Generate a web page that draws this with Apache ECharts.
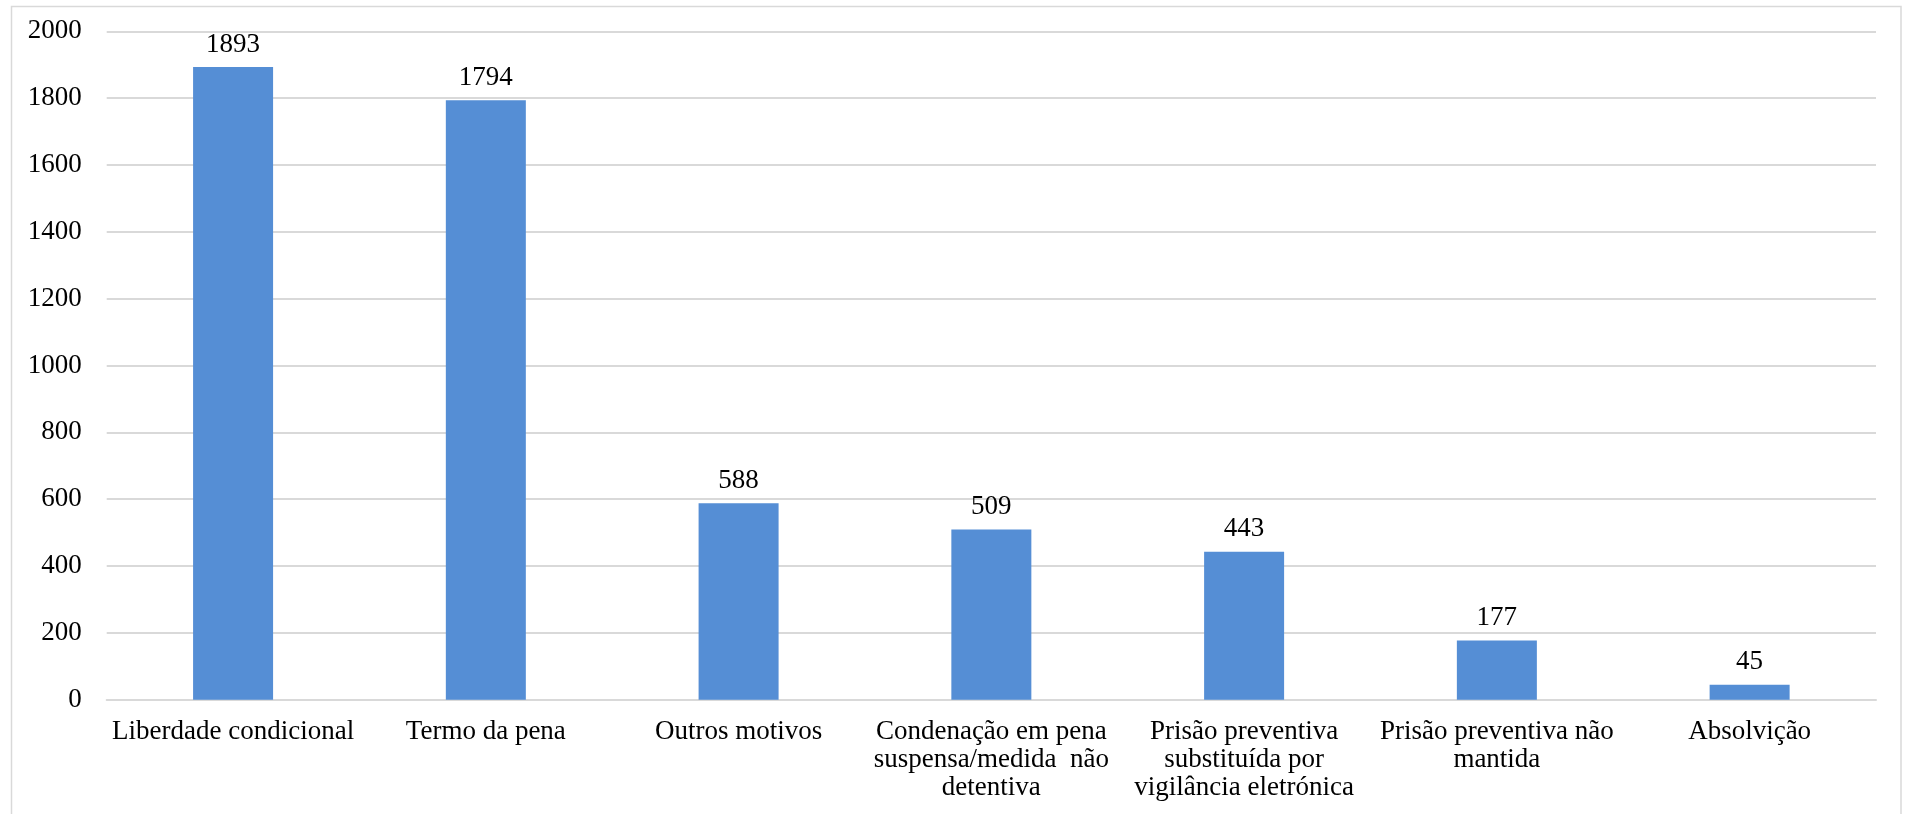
<!DOCTYPE html>
<html>
<head>
<meta charset="utf-8">
<style>
  html, body { margin: 0; padding: 0; background: #fff; }
  #chart { width: 1907px; height: 814px; }
</style>
<script src="https://cdn.jsdelivr.net/npm/echarts@6/dist/echarts.min.js"></script>
</head>
<body>
<div id="chart"></div>
<script>
// Motivos de libertação e número de casos
const categories = [
  'Liberdade condicional',
  'Termo da pena',
  'Outros motivos',
  'Condenação em pena\nsuspensa/medida  não\ndetentiva',
  'Prisão preventiva\nsubstituída por\nvigilância eletrónica',
  'Prisão preventiva não\nmantida',
  'Absolvição'
];
const values = [1893, 1794, 588, 509, 443, 177, 45];
const yTicks = { min: 0, max: 2000, interval: 200 };

const FONT = '"Liberation Serif", "Times New Roman", serif';
const GRID_GRAY = '#d9d9d9';

const chart = echarts.init(document.getElementById('chart'), null, { renderer: 'canvas' });

chart.setOption({
  animation: false,
  backgroundColor: '#ffffff',
  textStyle: { fontFamily: FONT, color: '#000' },
  graphic: [{
    type: 'rect',
    silent: true,
    shape: { x: 11.5, y: 6.5, width: 1889.5, height: 820 },
    style: { fill: 'none', stroke: GRID_GRAY, lineWidth: 1.5 }
  }],
  grid: { left: 106.7, right: 31, top: 31.3, bottom: 114.3 },
  xAxis: {
    type: 'category',
    data: categories,
    axisTick: { show: false },
    axisLine: { show: true, lineStyle: { color: GRID_GRAY, width: 2 } },
    axisLabel: {
      interval: 0,
      margin: 18,
      fontFamily: FONT,
      fontSize: 27,
      lineHeight: 28,
      color: '#000',
      align: 'center'
    }
  },
  yAxis: {
    type: 'value',
    min: yTicks.min,
    max: yTicks.max,
    interval: yTicks.interval,
    axisLine: { show: false },
    axisTick: { show: false },
    splitLine: { show: true, lineStyle: { color: GRID_GRAY, width: 2 } },
    axisLabel: {
      margin: 25,
      fontFamily: FONT,
      fontSize: 27,
      color: '#000',
      formatter: (v) => String(v)
    }
  },
  series: [{
    type: 'bar',
    data: values,
    barWidth: 80,
    itemStyle: { color: '#558ed5' },
    label: {
      show: true,
      position: 'top',
      distance: 9,
      fontFamily: FONT,
      fontSize: 27,
      color: '#000'
    }
  }]
});
</script>
</body>
</html>
